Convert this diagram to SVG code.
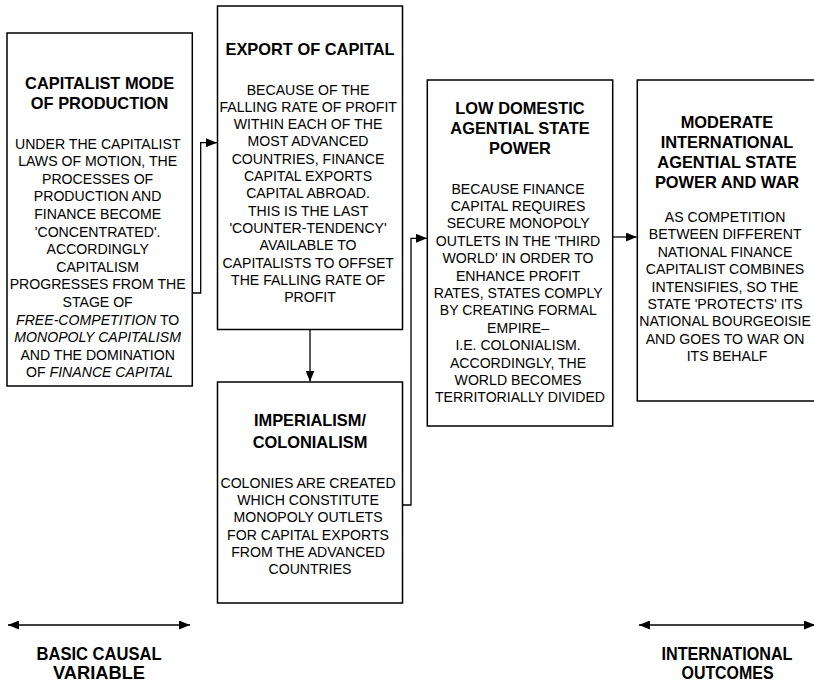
<svg xmlns="http://www.w3.org/2000/svg" width="814" height="682" viewBox="0 0 814 682">
<style>
.box{fill:#fff;stroke:#000;stroke-width:1.5}
.t{font-family:"Liberation Sans",Arial,sans-serif;font-weight:bold;font-size:16.4px;text-anchor:middle;fill:#000}
.b{font-family:"Liberation Sans",Arial,sans-serif;font-size:14.1px;text-anchor:middle;fill:#000}
.i{font-style:italic}
.lab{font-family:"Liberation Sans Narrow","Liberation Sans",Arial,sans-serif;font-weight:bold;font-size:19px;text-anchor:middle;fill:#000}
.c{fill:none;stroke:#000;stroke-width:1.3}
</style>
<defs>
<marker id="ah" markerUnits="userSpaceOnUse" markerWidth="11" markerHeight="9" refX="11" refY="4.5" orient="auto-start-reverse">
<path d="M0,0 L11,4.5 L0,9 z" fill="#000"/>
</marker>
</defs>
<rect width="814" height="682" fill="#fff"/>
<g id="connectors">
<path class="c" d="M192.3,293 H200.7 V142.7 H217" marker-end="url(#ah)"/>
<path class="c" d="M310,329.5 V381.5" marker-end="url(#ah)"/>
<path class="c" d="M402.5,505 H411 V238.3 H427" marker-end="url(#ah)"/>
<path class="c" d="M612.7,237 H636.7" marker-end="url(#ah)"/>
<path class="c" d="M8,625 H190" marker-start="url(#ah)" marker-end="url(#ah)"/>
<path class="c" d="M639,625 H815" marker-start="url(#ah)" marker-end="url(#ah)"/>
</g>
<g id="capitalist-mode">
<rect class="box" x="7" y="33" width="185.3" height="353"/>
<text class="t"><tspan x="99.6" y="89">CAPITALIST MODE</tspan><tspan x="99.6" y="109">OF PRODUCTION</tspan></text>
<text class="b">
<tspan x="99.6" y="148.5">UNDER THE CAPITALIST</tspan>
<tspan x="99.6" dy="17.6">LAWS OF MOTION, THE</tspan>
<tspan x="99.6" dy="17.6">PROCESSES OF</tspan>
<tspan x="99.6" dy="17.6">PRODUCTION AND</tspan>
<tspan x="99.6" dy="17.6">FINANCE BECOME</tspan>
<tspan x="99.6" dy="17.6">'CONCENTRATED'.</tspan>
<tspan x="99.6" dy="17.6">ACCORDINGLY</tspan>
<tspan x="99.6" dy="17.6">CAPITALISM</tspan>
<tspan x="99.6" dy="17.6">PROGRESSES FROM THE</tspan>
<tspan x="99.6" dy="17.6">STAGE OF</tspan>
<tspan x="99.6" dy="17.6"><tspan class="i">FREE-COMPETITION</tspan> TO</tspan>
<tspan x="99.6" dy="17.6" class="i">MONOPOLY CAPITALISM</tspan>
<tspan x="99.6" dy="17.6">AND THE DOMINATION</tspan>
<tspan x="99.6" dy="17.6">OF <tspan class="i">FINANCE CAPITAL</tspan></tspan>
</text>
</g>
<g id="export-of-capital">
<rect class="box" x="217.5" y="6" width="185" height="323.5"/>
<text class="t"><tspan x="310" y="54.7">EXPORT OF CAPITAL</tspan></text>
<text class="b">
<tspan x="310" y="94.5">BECAUSE OF THE</tspan>
<tspan x="310" dy="17.3">FALLING RATE OF PROFIT</tspan>
<tspan x="310" dy="17.3">WITHIN EACH OF THE</tspan>
<tspan x="310" dy="17.3">MOST ADVANCED</tspan>
<tspan x="310" dy="17.3">COUNTRIES, FINANCE</tspan>
<tspan x="310" dy="17.3">CAPITAL EXPORTS</tspan>
<tspan x="310" dy="17.3">CAPITAL ABROAD.</tspan>
<tspan x="310" dy="17.3">THIS IS THE LAST</tspan>
<tspan x="310" dy="17.3">'COUNTER-TENDENCY'</tspan>
<tspan x="310" dy="17.3">AVAILABLE TO</tspan>
<tspan x="310" dy="17.3">CAPITALISTS TO OFFSET</tspan>
<tspan x="310" dy="17.3">THE FALLING RATE OF</tspan>
<tspan x="310" dy="17.3">PROFIT</tspan>
</text>
</g>
<g id="imperialism">
<rect class="box" x="217.5" y="382" width="185" height="221"/>
<text class="t"><tspan x="310" y="426.4">IMPERIALISM/</tspan><tspan x="310" y="448">COLONIALISM</tspan></text>
<text class="b">
<tspan x="310" y="488">COLONIES ARE CREATED</tspan>
<tspan x="310" dy="17.2">WHICH CONSTITUTE</tspan>
<tspan x="310" dy="17.2">MONOPOLY OUTLETS</tspan>
<tspan x="310" dy="17.2">FOR CAPITAL EXPORTS</tspan>
<tspan x="310" dy="17.2">FROM THE ADVANCED</tspan>
<tspan x="310" dy="17.2">COUNTRIES</tspan>
</text>
</g>
<g id="low-domestic">
<rect class="box" x="427.3" y="80" width="185.4" height="346"/>
<text class="t"><tspan x="520" y="114">LOW DOMESTIC</tspan><tspan x="520" y="134">AGENTIAL STATE</tspan><tspan x="520" y="154">POWER</tspan></text>
<text class="b">
<tspan x="520" y="193.5">BECAUSE FINANCE</tspan>
<tspan x="520" dy="17.4">CAPITAL REQUIRES</tspan>
<tspan x="520" dy="17.4">SECURE MONOPOLY</tspan>
<tspan x="520" dy="17.4">OUTLETS IN THE 'THIRD</tspan>
<tspan x="520" dy="17.4">WORLD' IN ORDER TO</tspan>
<tspan x="520" dy="17.4">ENHANCE PROFIT</tspan>
<tspan x="520" dy="17.4">RATES, STATES COMPLY</tspan>
<tspan x="520" dy="17.4">BY CREATING FORMAL</tspan>
<tspan x="520" dy="17.4">EMPIRE–</tspan>
<tspan x="520" dy="17.4">I.E. COLONIALISM.</tspan>
<tspan x="520" dy="17.4">ACCORDINGLY, THE</tspan>
<tspan x="520" dy="17.4">WORLD BECOMES</tspan>
<tspan x="520" dy="17.4">TERRITORIALLY DIVIDED</tspan>
</text>
</g>
<g id="moderate-international">
<rect class="box" x="637.3" y="80" width="182" height="321"/>
<text class="t"><tspan x="727" y="128">MODERATE</tspan><tspan x="727" y="148">INTERNATIONAL</tspan><tspan x="727" y="168">AGENTIAL STATE</tspan><tspan x="727" y="188">POWER AND WAR</tspan></text>
<text class="b">
<tspan x="727" y="222">AS COMPETITION</tspan>
<tspan x="727" dy="17.4">BETWEEN DIFFERENT</tspan>
<tspan x="727" dy="17.4">NATIONAL FINANCE</tspan>
<tspan x="727" dy="17.4">CAPITALIST COMBINES</tspan>
<tspan x="727" dy="17.4">INTENSIFIES, SO THE</tspan>
<tspan x="727" dy="17.4">STATE 'PROTECTS' ITS</tspan>
<tspan x="727" dy="17.4">NATIONAL BOURGEOISIE</tspan>
<tspan x="727" dy="17.4">AND GOES TO WAR ON</tspan>
<tspan x="727" dy="17.4">ITS BEHALF</tspan>
</text>
</g>
<g id="basic-causal-variable">
<text class="lab" x="99" y="659.5" textLength="125" lengthAdjust="spacingAndGlyphs">BASIC CAUSAL</text>
<text class="lab" x="99" y="679" textLength="92" lengthAdjust="spacingAndGlyphs">VARIABLE</text>
</g>
<g id="international-outcomes">
<text class="lab" x="727" y="659.5" textLength="131" lengthAdjust="spacingAndGlyphs">INTERNATIONAL</text>
<text class="lab" x="727.5" y="679" textLength="92" lengthAdjust="spacingAndGlyphs">OUTCOMES</text>
</g>
</svg>
